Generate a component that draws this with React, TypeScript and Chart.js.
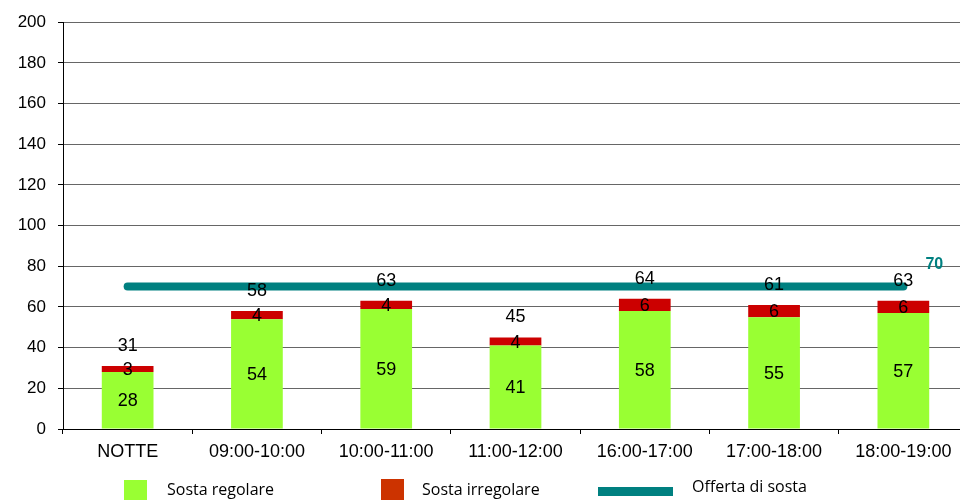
import React, { useEffect, useRef } from "react";
import { Chart, registerables } from "chart.js";

Chart.register(...registerables);

const categories = ["NOTTE", "09:00-10:00", "10:00-11:00", "11:00-12:00", "16:00-17:00", "17:00-18:00", "18:00-19:00"];
const sostaRegolare = [28, 54, 59, 41, 58, 55, 57];
const sostaIrregolare = [3, 4, 4, 4, 6, 6, 6];
const offertaSosta = [70, 70, 70, 70, 70, 70, 70];
const yTicks = [0, 20, 40, 60, 80, 100, 120, 140, 160, 180, 200];

const GREEN = "#99FF33";
const RED = "#CC0000";
const RED_LEGEND = "#CC3300";
const TEAL = "#008080";
const FONT = '"Liberation Sans", Arial, sans-serif';

const labelPlugin = {
  id: "valueLabels",
  afterDatasetsDraw(chart: any) {
    const ctx = chart.ctx;
    const m0 = chart.getDatasetMeta(0);
    const m1 = chart.getDatasetMeta(1);
    const m2 = chart.getDatasetMeta(2);
    ctx.save();
    ctx.fillStyle = "#000";
    ctx.textAlign = "center";
    ctx.textBaseline = "middle";
    ctx.font = `18px ${FONT}`;
    m0.data.forEach((el: any, i: number) => {
      const p = el.getProps(["x", "y", "base"], true);
      ctx.fillText(String(sostaRegolare[i]), p.x, (p.y + p.base) / 2 + 1);
    });
    m1.data.forEach((el: any, i: number) => {
      const p = el.getProps(["x", "y", "base"], true);
      ctx.fillText(String(sostaIrregolare[i]), p.x, (p.y + p.base) / 2 + 1);
      const total = sostaRegolare[i] + sostaIrregolare[i];
      ctx.fillText(String(total), p.x, p.y - 20);
    });
    const last = m2.data[m2.data.length - 1];
    if (last) {
      const p = last.getProps(["x", "y"], true);
      ctx.font = `bold 16px ${FONT}`;
      ctx.fillStyle = TEAL;
      ctx.fillText(String(offertaSosta[offertaSosta.length - 1]), p.x + 31, p.y - 22);
    }
    // legend
    ctx.textAlign = "left";
    ctx.font = `16px "Open Sans", sans-serif`;
    ctx.fillStyle = GREEN;
    ctx.fillRect(124, 480, 23, 23);
    ctx.fillStyle = RED_LEGEND;
    ctx.fillRect(381, 479, 23, 23);
    ctx.fillStyle = TEAL;
    ctx.fillRect(598, 487, 75, 9);
    ctx.fillStyle = "#000";
    ctx.fillText("Sosta regolare", 167, 490);
    ctx.fillText("Sosta irregolare", 422, 490);
    ctx.fillText("Offerta di sosta", 692, 487);
    ctx.restore();
  },
};

export default function App() {
  const ref = useRef<HTMLCanvasElement | null>(null);
  useEffect(() => {
    if (!ref.current) return;
    const chart = new Chart(ref.current, {
      type: "bar",
      data: {
        labels: categories,
        datasets: [
          {
            label: "Sosta regolare",
            data: sostaRegolare,
            backgroundColor: GREEN,
            stack: "s",
            order: 1,
            categoryPercentage: 1,
            barPercentage: 0.4,
          },
          {
            label: "Sosta irregolare",
            data: sostaIrregolare,
            backgroundColor: RED,
            stack: "s",
            order: 1,
            categoryPercentage: 1,
            barPercentage: 0.4,
          },
          {
            type: "line",
            label: "Offerta di sosta",
            data: offertaSosta,
            borderColor: TEAL,
            backgroundColor: TEAL,
            borderWidth: 8,
            borderCapStyle: "round",
            pointRadius: 0,
            order: 0,
          } as any,
        ],
      },
      options: {
        responsive: false,
        animation: false,
        devicePixelRatio: 1,
        layout: { padding: { top: 21, right: 7, left: 0, bottom: 0 } },
        plugins: { legend: { display: false }, tooltip: { enabled: false } },
        scales: {
          x: {
            stacked: true,
            offset: true,
            grid: {
              offset: true,
              drawOnChartArea: false,
              drawTicks: true,
              tickLength: 5,
              tickColor: "#000",
            },
            border: { display: true, color: "#000", width: 1 },
            ticks: { color: "#000", font: { family: FONT, size: 18 }, padding: 7, maxRotation: 0, autoSkip: false },
            afterFit: (s: any) => { s.height = 71; },
          },
          y: {
            stacked: true,
            min: 0,
            max: 200,
            afterBuildTicks: (s: any) => { s.ticks = yTicks.map((v) => ({ value: v })); },
            grid: {
              color: "#666666",
              lineWidth: 1,
              borderDash: [1, 1],
              tickLength: 5,
              tickColor: "#000",
            },
            border: { display: true, color: "#000", width: 1 },
            ticks: { color: "#000", font: { family: FONT, size: 17 }, padding: 12 },
            afterFit: (s: any) => { s.width = 63; },
          },
        },
      },
      plugins: [labelPlugin],
    });
    return () => chart.destroy();
  }, []);
  return (
    <div style={{ position: "fixed", left: 0, top: 0, width: 960, height: 500, overflow: "hidden", background: "#fff" }}>
      <canvas ref={ref} width={975} height={500} style={{ display: "block" }} />
    </div>
  );
}
